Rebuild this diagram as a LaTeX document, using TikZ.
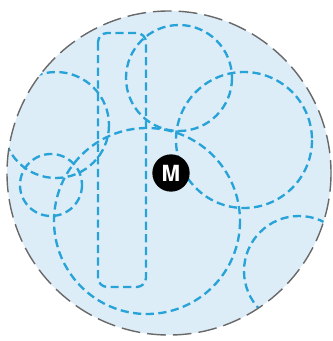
\documentclass[tikz,border=0pt]{standalone}
\usepackage{fontspec}
\setsansfont{TeX Gyre Heros}
\usepackage{tikz}
\usetikzlibrary{positioning,calc}
\definecolor{zoneblue}{RGB}{221,237,248}
\definecolor{routeblue}{RGB}{40,163,216}
\definecolor{rimgrey}{RGB}{105,105,105}

\begin{document}
\begin{tikzpicture}[
    x=0.3mm, y=-0.3mm,
    route/.style={draw=routeblue, line width=2pt, dash pattern=on 7pt off 3.8pt},
    rim/.style={draw=rimgrey, line width=1.2pt, dash pattern=on 16pt off 6pt},
    badge/.style={circle, fill=black, minimum size=11.2mm, inner sep=0pt,
                  text=white, font=\sffamily\bfseries\fontsize{19}{19}\selectfont}
]
    \useasboundingbox (0,0) rectangle (332,341);
    % Catchment area
    \fill[zoneblue] (169,173) circle[radius=162];

    % Overlapping service zones, clipped to the area
    \begin{scope}
        \clip (169,173) circle[radius=162];
        \draw[route] (179,78) circle[radius=53];
        \draw[route] (244,140) circle[radius=68];
        \draw[route] (299,271) circle[radius=55];
        \draw[route] (147,221) circle[radius=93];
        \draw[route] (51,185) circle[radius=31];
        \draw[route] (56,125) circle[radius=53];
        \draw[route, rounded corners=8] (98,33) rectangle (146,287);
    \end{scope}

    % Outer boundary
    \draw[rim] (169,173) circle[radius=162];

    % Station marker
    \node[badge] (stationM) at (171,173) {M};
\end{tikzpicture}
\end{document}
